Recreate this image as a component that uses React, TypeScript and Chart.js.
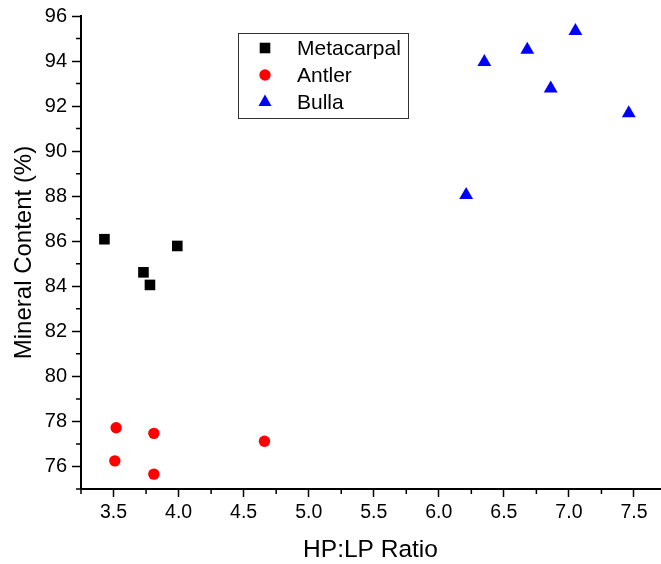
import { useEffect, useRef } from 'react';
import { Chart, registerables } from 'chart.js';

Chart.register(...registerables);

// Measured samples: HP:LP ratio (x) against mineral content in percent (y)
const metacarpalX = [3.43, 3.73, 3.78, 3.99];
const metacarpalY = [86.09, 84.62, 84.06, 85.79];
const antlerX = [3.52, 3.51, 3.81, 3.81, 4.66];
const antlerY = [77.72, 76.25, 77.47, 75.66, 77.12];
const bullaX = [6.35, 6.68, 7.05, 6.86, 7.46, 6.21];
const bullaY = [93.96, 94.5, 95.33, 92.78, 91.68, 88.05];

const seriesNames = ['Metacarpal', 'Antler', 'Bulla'];

// Axis ticks
const xMajorTicks = [3.5, 4.0, 4.5, 5.0, 5.5, 6.0, 6.5, 7.0, 7.5];
const xMinorTicks = [3.25, 3.75, 4.25, 4.75, 5.25, 5.75, 6.25, 6.75, 7.25];
const yMajorTicks = [76, 78, 80, 82, 84, 86, 88, 90, 92, 94, 96];
const yMinorTicks = [75, 77, 79, 81, 83, 85, 87, 89, 91, 93, 95];

const FONT = '"Liberation Sans", Arial, Helvetica, sans-serif';

const toPoints = (xs: number[], ys: number[]) => xs.map((x, i) => ({ x, y: ys[i] }));

// Short outward ticks between the labelled ones
const minorTicksPlugin = {
  id: 'minorTicks',
  afterDraw(chart: any) {
    const { ctx, chartArea, scales } = chart;
    ctx.save();
    ctx.strokeStyle = '#000';
    ctx.lineWidth = 1.5;
    ctx.beginPath();
    for (const v of xMinorTicks) {
      const px = scales.x.getPixelForValue(v);
      ctx.moveTo(px, chartArea.bottom);
      ctx.lineTo(px, chartArea.bottom + 5);
    }
    for (const v of yMinorTicks) {
      const py = scales.y.getPixelForValue(v);
      ctx.moveTo(chartArea.left, py);
      ctx.lineTo(chartArea.left - 5, py);
    }
    ctx.stroke();
    ctx.restore();
  },
};

function drawMarker(ctx: CanvasRenderingContext2D, style: string, x: number, y: number, color: string) {
  ctx.fillStyle = color;
  ctx.beginPath();
  if (style === 'rect') {
    ctx.rect(x - 5.3, y - 5.3, 10.6, 10.6);
  } else if (style === 'circle') {
    ctx.arc(x, y, 5.7, 0, Math.PI * 2);
  } else {
    ctx.moveTo(x, y - 7.5);
    ctx.lineTo(x + 6.5, y + 4);
    ctx.lineTo(x - 6.5, y + 4);
    ctx.closePath();
  }
  ctx.fill();
}

// Boxed legend inside the plot area
const boxLegendPlugin = {
  id: 'boxLegend',
  afterDraw(chart: any) {
    const { ctx, chartArea } = chart;
    const bx = chartArea.left + 157;
    const by = chartArea.top + 17;
    const bw = 170;
    const bh = 85;
    ctx.save();
    ctx.strokeStyle = '#333';
    ctx.lineWidth = 1;
    ctx.strokeRect(Math.round(bx) + 0.5, Math.round(by) + 0.5, bw, bh);
    ctx.font = `21px ${FONT}`;
    ctx.textBaseline = 'middle';
    ctx.textAlign = 'left';
    chart.data.datasets.forEach((ds: any, i: number) => {
      const cy = by + 15 + i * 27;
      drawMarker(ctx, ds.pointStyle, bx + 27, cy, ds.backgroundColor);
      ctx.fillStyle = '#000';
      ctx.fillText(ds.label, bx + 59, cy + 1);
    });
    ctx.restore();
  },
};

export default function App() {
  const canvasRef = useRef<HTMLCanvasElement | null>(null);

  useEffect(() => {
    if (!canvasRef.current) return;
    const chart = new Chart(canvasRef.current, {
      type: 'scatter',
      data: {
        datasets: [
          {
            label: seriesNames[0],
            data: toPoints(metacarpalX, metacarpalY),
            pointStyle: 'rect',
            pointRadius: 7.5,
            backgroundColor: '#000000',
            borderColor: '#000000',
            borderWidth: 0,
          },
          {
            label: seriesNames[1],
            data: toPoints(antlerX, antlerY),
            pointStyle: 'circle',
            pointRadius: 5.7,
            backgroundColor: '#ff0000',
            borderColor: '#ff0000',
            borderWidth: 0,
          },
          {
            label: seriesNames[2],
            data: toPoints(bullaX, bullaY),
            pointStyle: 'triangle',
            pointRadius: 8,
            backgroundColor: '#0000ff',
            borderColor: '#0000ff',
            borderWidth: 0,
          },
        ] as any,
      },
      options: {
        responsive: false,
        animation: false,
        devicePixelRatio: 1,
        layout: { autoPadding: false, padding: { top: 16, right: 1, left: 0, bottom: 0 } },
        plugins: {
          legend: { display: false },
          tooltip: { enabled: false },
        },
        scales: {
          x: {
            type: 'linear',
            min: 3.25,
            max: 7.7,
            afterBuildTicks: (scale: any) => {
              scale.ticks = xMajorTicks.map((value) => ({ value }));
            },
            afterFit: (scale: any) => {
              scale.height = 75;
              scale.paddingLeft = 0;
              scale.paddingRight = 0;
            },
            border: { display: true, color: '#000', width: 2 },
            grid: {
              drawOnChartArea: false,
              drawTicks: true,
              tickLength: 8,
              tickWidth: 1.5,
              tickColor: '#000',
            },
            ticks: {
              color: '#000',
              padding: 4,
              maxRotation: 0,
              font: { family: FONT, size: 19.5 },
              callback: (v: any) => Number(v).toFixed(1),
            },
            title: {
              display: true,
              text: 'HP:LP Ratio',
              color: '#000',
              font: { family: FONT, size: 24.5 },
              padding: { top: 0, bottom: -1 },
            },
          },
          y: {
            type: 'linear',
            min: 75,
            max: 96,
            afterBuildTicks: (scale: any) => {
              scale.ticks = yMajorTicks.map((value) => ({ value }));
            },
            afterFit: (scale: any) => {
              scale.width = 81;
              scale.paddingTop = 0;
              scale.paddingBottom = 0;
            },
            border: { display: true, color: '#000', width: 2 },
            grid: {
              drawOnChartArea: false,
              drawTicks: true,
              tickLength: 9,
              tickWidth: 1.5,
              tickColor: '#000',
            },
            ticks: {
              color: '#000',
              padding: 5,
              font: { family: FONT, size: 20 },
              callback: (v: any) => String(v),
            },
            title: {
              display: true,
              text: 'Mineral Content (%)',
              color: '#000',
              font: { family: FONT, size: 24 },
              padding: { top: 10, bottom: 0 },
            },
          },
        },
      },
      plugins: [minorTicksPlugin, boxLegendPlugin],
    });
    return () => chart.destroy();
  }, []);

  return (
    <div style={{ position: 'fixed', left: 0, top: 0, width: 661, height: 564, background: '#fff' }}>
      <canvas ref={canvasRef} width={661} height={564} style={{ display: 'block' }} />
    </div>
  );
}
